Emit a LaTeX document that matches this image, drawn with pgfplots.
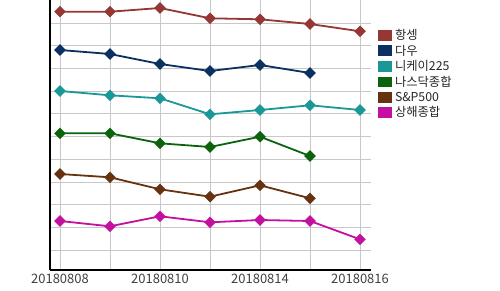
\documentclass[border=0pt]{standalone}
\usepackage{pgfplots}
\pgfplotsset{compat=1.18}
\usepackage{fontspec}
\setmainfont{Noto Sans CJK KR}
\definecolor{cHS}{HTML}{953735}
\definecolor{cDow}{HTML}{0B3163}
\definecolor{cNik}{HTML}{1A9898}
\definecolor{cNas}{HTML}{0B640B}
\definecolor{cSP}{HTML}{663311}
\definecolor{cSH}{HTML}{C4109E}
\definecolor{gridc}{HTML}{C8C8C8}
\begin{document}
\begin{tikzpicture}
\path[use as bounding box] (-50pt,-20pt) rectangle (450pt,270pt);
\begin{axis}[
  at={(0pt,0pt)}, anchor=south west,
  scale only axis, width=321pt, height=270pt,
  xmin=-0.2, xmax=6.22, ymin=0, ymax=270,
  axis x line*=bottom, axis y line*=left,
  axis line style={-, black, line width=1.2pt},
  xtick={0,...,6},
  xticklabels={20180808,,20180810,,20180814,,20180816},
  ytick={20,42.7,65.4,88.1,110.8,133.5,156.2,178.9,201.6,224.3,247},
  yticklabels={},
  major tick length=0pt,
  grid=major,
  major grid style={gridc, line width=0.8pt},
  /pgf/number format/assume math mode=true,
  xticklabel style={font=\fontsize{13}{13}\selectfont, text=black!75, yshift=-1pt},
  every axis plot/.append style={line width=1.8pt, mark=square*, mark size=3.2pt, mark options={rotate=45, solid}},
  legend style={draw=none, fill=none, at={(1,0.905)}, anchor=north west, xshift=4pt,
    font=\fontsize{12.3}{12.3}\selectfont, row sep=0.9pt,
    nodes={inner sep=1.5pt, text=black!85}},
  legend cell align=left,
  legend image code/.code={\fill[#1] (0pt,-4.5pt) rectangle (12pt,4.5pt);},
  clip=false,
]
\addplot[color=cHS] coordinates {(0,258.3) (1,258.3) (2,262) (3,251.7) (4,250.7) (5,246) (6,238.7)};
\addlegendentry{\hspace{1.5pt}항셍}
\addplot[color=cDow] coordinates {(0,220) (1,216) (2,206) (3,199) (4,205) (5,197)};
\addlegendentry{\hspace{1.5pt}다우}
\addplot[color=cNik] coordinates {(0,179) (1,174.7) (2,171.7) (3,155.7) (4,160) (5,164.7) (6,160)};
\addlegendentry{\hspace{1.5pt}니케이225}
\addplot[color=cNas] coordinates {(0,136.7) (1,136.7) (2,126.7) (3,123) (4,133.3) (5,114)};
\addlegendentry{\hspace{1.5pt}나스닥종합}
\addplot[color=cSP] coordinates {(0,96) (1,92.7) (2,80.7) (3,73.3) (4,84.7) (5,71.7)};
\addlegendentry{\hspace{1.5pt}S\&P500}
\addplot[color=cSH] coordinates {(0,49) (1,43.7) (2,53.7) (3,47.7) (4,50) (5,49) (6,30.7)};
\addlegendentry{\hspace{1.5pt}상해종합}
\end{axis}
\end{tikzpicture}
\end{document}
